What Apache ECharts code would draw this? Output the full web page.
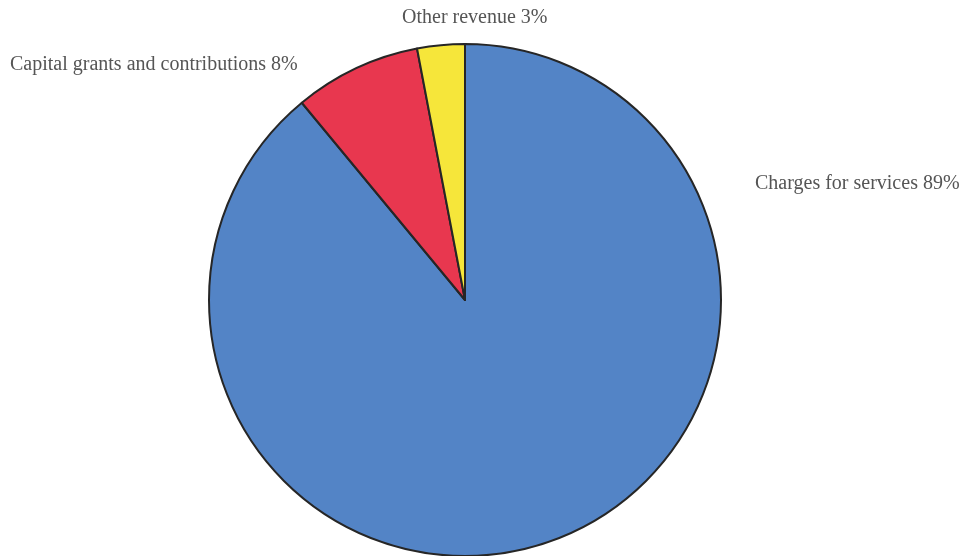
<!DOCTYPE html>
<html>
<head>
<meta charset="utf-8">
<script src="https://cdn.jsdelivr.net/npm/echarts@6/dist/echarts.min.js"></script>
<style>
  html, body { margin: 0; padding: 0; background: #ffffff; }
  #chart { width: 970px; height: 556px; }
</style>
</head>
<body>
<div id="chart"></div>
<script>
// Revenue sources (percent of total)
const categories = ['Charges for services', 'Capital grants and contributions', 'Other revenue'];
const shares = [89, 8, 3];
const sliceColors = ['#5384c6', '#e8374f', '#f6e63a'];

// Label anchor points (left edge, vertical middle), one per slice
const labelAnchors = [
  { x: 755, y: 184 },
  { x: 10, y: 65 },
  { x: 402, y: 18 }
];

const chart = echarts.init(document.getElementById('chart'), null, { renderer: 'canvas' });

chart.setOption({
  backgroundColor: '#ffffff',
  animation: false,
  series: [{
    type: 'pie',
    center: [465, 300],
    radius: 256,
    startAngle: 90,
    clockwise: true,
    data: categories.map((name, i) => ({
      name: name,
      value: shares[i],
      itemStyle: { color: sliceColors[i] }
    })),
    itemStyle: { borderColor: '#262626', borderWidth: 2 },
    label: {
      show: true,
      position: 'outside',
      formatter: '{b} {c}%',
      fontFamily: 'Liberation Serif',
      fontSize: 20,
      color: '#555555'
    },
    labelLine: { show: false },
    labelLayout: function (params) {
      const a = labelAnchors[params.dataIndex];
      return { x: a.x, y: a.y, align: 'left', verticalAlign: 'middle', hideOverlap: false };
    },
    emphasis: { disabled: true }
  }]
});
</script>
</body>
</html>
